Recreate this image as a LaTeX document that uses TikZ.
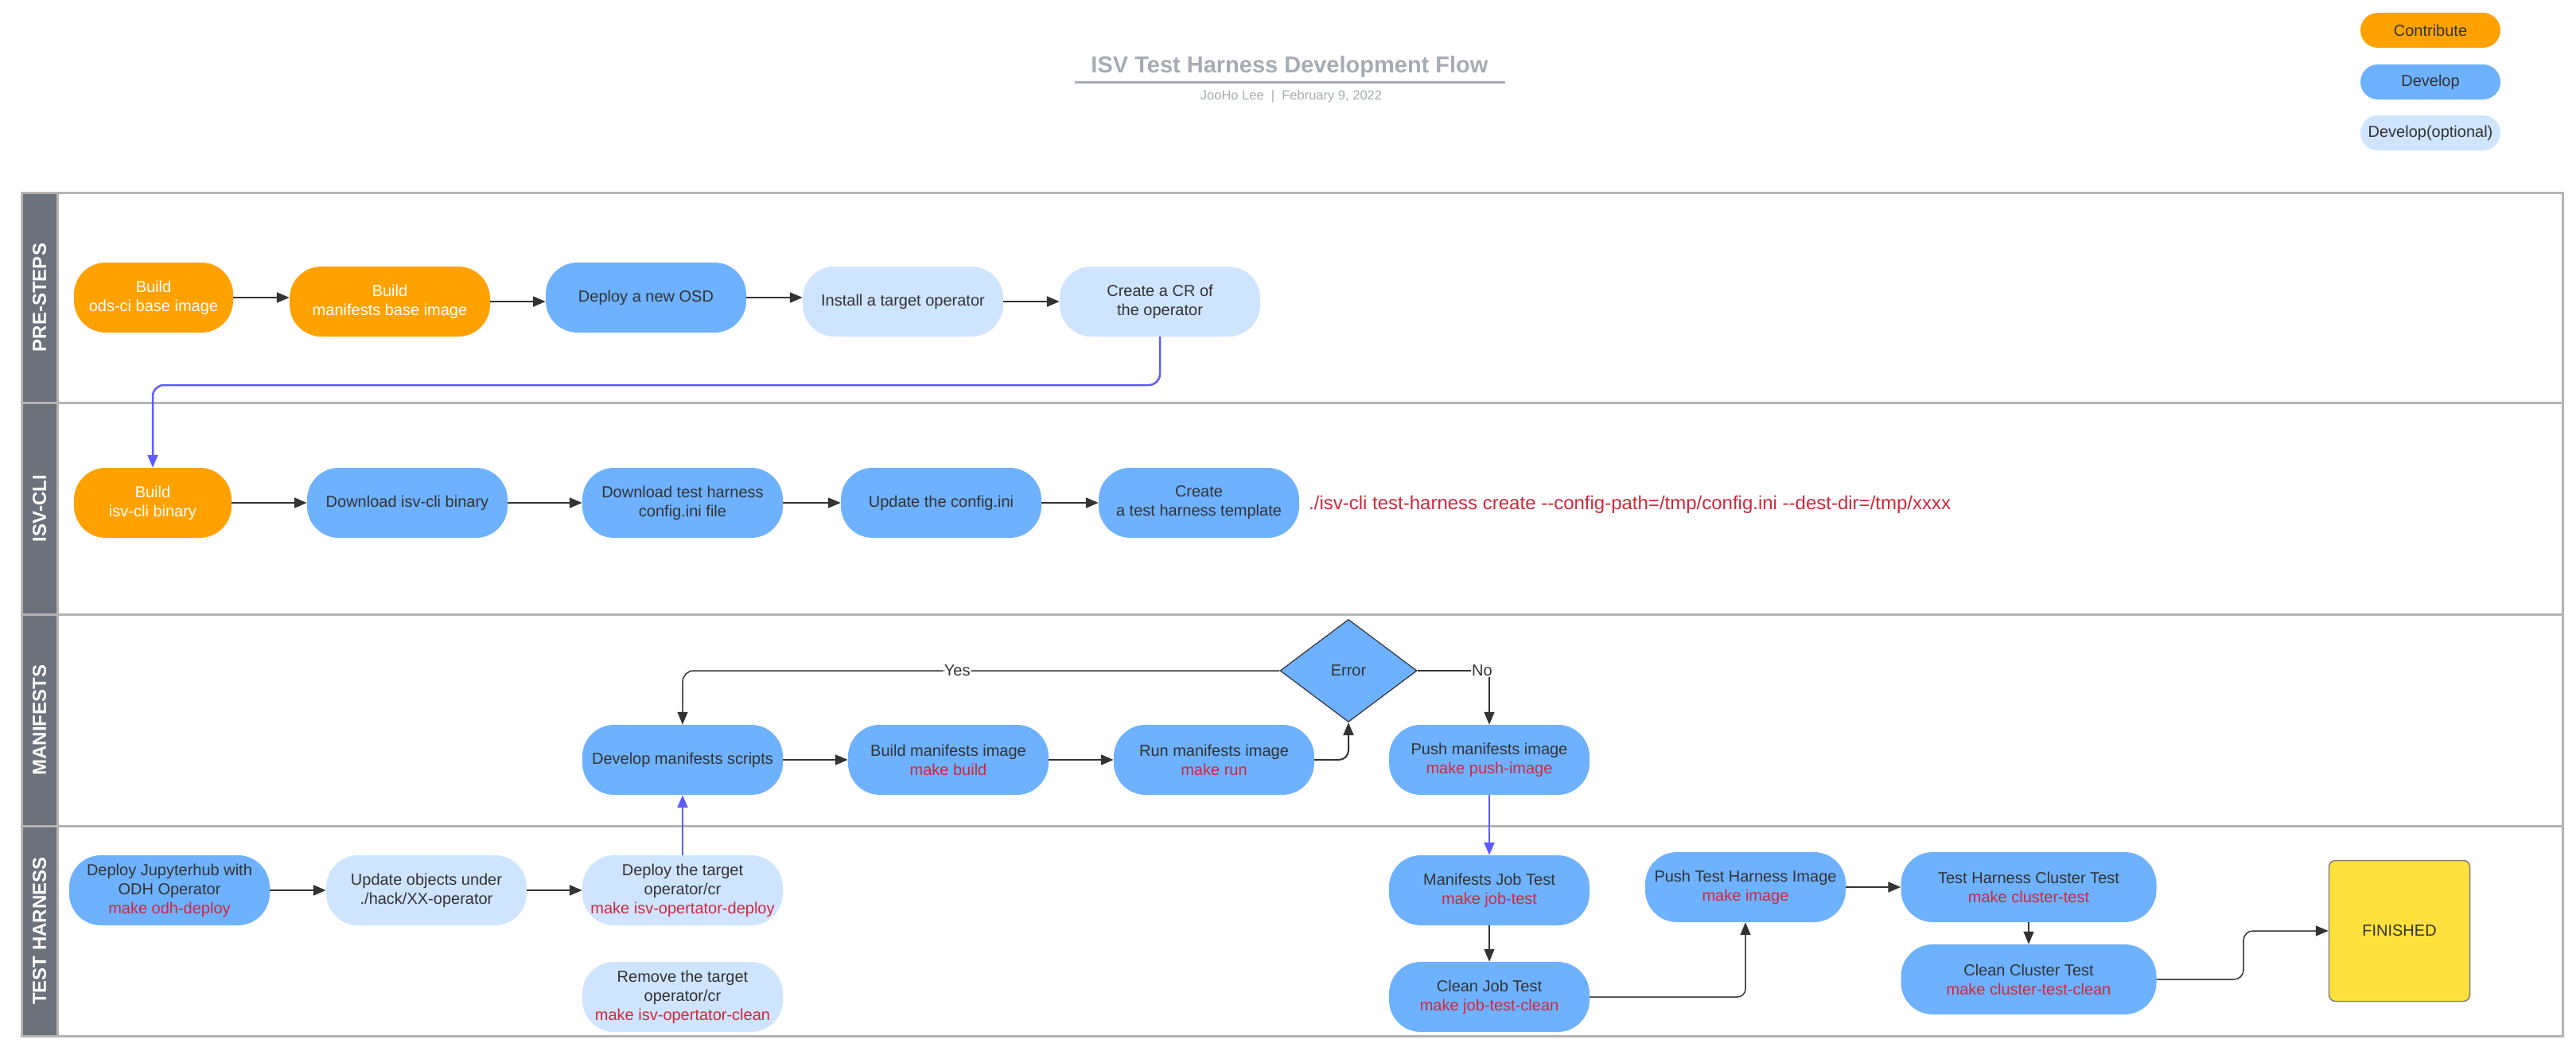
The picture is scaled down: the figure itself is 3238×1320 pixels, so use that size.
\documentclass[tikz,border=0pt]{standalone}
\usepackage{fontspec}
\setmainfont{Liberation Sans}
\usetikzlibrary{arrows.meta,shapes.geometric}
\definecolor{orng}{HTML}{FFA200}
\definecolor{devb}{HTML}{6DB1FF}
\definecolor{optb}{HTML}{CFE4FF}
\definecolor{txt}{HTML}{333333}
\definecolor{redt}{HTML}{D0283C}
\definecolor{purp}{HTML}{5E5CFF}
\definecolor{arrc}{HTML}{333333}
\definecolor{lanegray}{HTML}{6B727B}
\definecolor{laneline}{HTML}{B4B4B4}
\definecolor{titlec}{HTML}{A7ACB4}
\definecolor{yell}{HTML}{FFE13D}
\newcommand{\rd}[1]{\textcolor{redt}{#1}}
\tikzset{
  box/.style={rounded corners=40pt, minimum width=252pt, minimum height=88pt, align=center,
    font=\fontsize{20}{24}\selectfont, text=txt, inner sep=2pt},
  contrib/.style={box, fill=orng, text=white},
  devbox/.style={box, fill=devb},
  optbox/.style={box, fill=optb},
  legbox/.style={rounded corners=22pt, minimum width=176pt, minimum height=44pt,
    font=\fontsize{20}{24}\selectfont, text=txt, inner sep=0pt},
  arr/.style={draw=arrc, line width=2pt, -{Triangle[length=16pt,width=13pt]}},
  parr/.style={draw=purp, line width=2.5pt, -{Triangle[length=16pt,width=13pt]}},
  lanelbl/.style={rotate=90, text=white, font=\bfseries\fontsize{24}{28}\selectfont},
  lbl/.style={fill=white, text=txt, font=\fontsize{20}{24}\selectfont, inner sep=1pt},
}
\begin{document}
\begin{tikzpicture}[x=1pt,y=-1pt]
\useasboundingbox (0,0) rectangle (3238,1320);
\fill[white] (0,0) rectangle (3238,1320);

% title
\node[text=titlec, font=\bfseries\fontsize{29}{34}\selectfont] (title) at (1621,84) {ISV Test Harness Development Flow};
\draw[titlec, line width=3pt] (1351,103) -- (1892,103);
\node[text=titlec, font=\fontsize{16.5}{19}\selectfont] (sub) at (1623,121) {JooHo Lee~~|~~February 9, 2022};

% legend
\node[legbox, fill=orng] (lg1) at (3055,38) {Contribute};
\node[legbox, fill=devb] (lg2) at (3055,103) {Develop};
\node[legbox, fill=optb] (lg3) at (3055,167) {Develop(optional)};

% lanes
\fill[lanegray] (27,242) rectangle (72,1302);
\draw[laneline, line width=3pt] (27,242) rectangle (3221,1302);
\foreach \yy in {506,772,1038} \draw[laneline, line width=3pt] (27,\yy) -- (3221,\yy);
\draw[laneline, line width=3pt] (72,242) -- (72,1302);
\node[lanelbl] (ln1) at (49.5,374) {PRE-STEPS};
\node[lanelbl] (ln2) at (49.5,639) {ISV-CLI};
\node[lanelbl] (ln3) at (49.5,905) {MANIFESTS};
\node[lanelbl] (ln4) at (49.5,1170) {TEST HARNESS};

% lane 1
\node[contrib, minimum width=200pt] (odsci) at (193,374) {Build\\ods-ci base image};
\node[contrib] (mfb) at (490,379) {Build\\manifests base image};
\node[devbox] (osd) at (812,374) {Deploy a new OSD};
\node[optbox] (inst) at (1135,379) {Install a target operator};
\node[optbox] (cr) at (1458,379) {Create a CR of\\the operator};
\draw[arr] (odsci.east) -- (odsci.east -| mfb.west);
\draw[arr] (mfb.east) -- (mfb.east -| osd.west);
\draw[arr] (osd.east) -- (osd.east -| inst.west);
\draw[arr] (inst.east) -- (cr.west);

% lane 2
\node[contrib, minimum width=198pt] (isvb) at (192,632) {Build\\isv-cli binary};
\node[devbox] (dlb) at (512,632) {Download isv-cli binary};
\node[devbox] (dlt) at (858,632) {Download test harness\\config.ini file};
\node[devbox] (upd) at (1183,632) {Update the config.ini};
\node[devbox] (ctt) at (1507,632) {Create\\a test harness template};
\node[anchor=west, text=redt, font=\fontsize{24}{28}\selectfont, inner sep=0pt] (cmd) at (1645,634) {./isv-cli test-harness create -{}-config-path=/tmp/config.ini -{}-dest-dir=/tmp/xxxx};
\draw[arr] (isvb.east) -- (dlb.west);
\draw[arr] (dlb.east) -- (dlt.west);
\draw[arr] (dlt.east) -- (upd.west);
\draw[arr] (upd.east) -- (ctt.west);
\draw[parr, rounded corners=14pt] (cr.south) -- (cr.south |- 0,484) -| (isvb.north);

% lane 3
\node[diamond, fill=devb, draw=arrc, line width=1.2pt, minimum width=172pt, minimum height=129pt,
  inner sep=0pt, text=txt, font=\fontsize{20}{24}\selectfont] (err) at (1695,843) {Error};
\node[devbox] (dms) at (858,955) {Develop manifests scripts};
\node[devbox] (bmi) at (1192,955) {Build manifests image\\\rd{make build}};
\node[devbox] (rmi) at (1526,955) {Run manifests image\\\rd{make run}};
\node[devbox] (pmi) at (1872,955) {Push manifests image\\\rd{make push-image}};
\draw[arr] (dms.east) -- (bmi.west);
\draw[arr] (bmi.east) -- (rmi.west);
\draw[arr, rounded corners=12pt] (rmi.east) -| (err.south);
\draw[arr, line width=1.5pt, rounded corners=14pt] (err.west) -| (dms.north) node[lbl, pos=0.27] (yes) {Yes};
\draw[arr, line width=1.5pt] (err.east) -| (pmi.north) node[lbl, pos=0.45] (no) {No};

% lane 4
\node[devbox] (jup) at (213,1119) {Deploy Jupyterhub with\\ODH Operator\\\rd{make odh-deploy}};
\node[optbox] (uob) at (536,1119) {Update objects under\\./hack/XX-operator};
\node[optbox] (dto) at (858,1119) {Deploy the target\\operator/cr\\\rd{make isv-opertator-deploy}};
\node[optbox] (rto) at (858,1253) {Remove the target\\operator/cr\\\rd{make isv-opertator-clean}};
\node[devbox] (mjt) at (1872,1119) {Manifests Job Test\\\rd{make job-test}};
\node[devbox] (cjt) at (1872,1253) {Clean Job Test\\\rd{make job-test-clean}};
\node[devbox] (pth) at (2194,1115) {Push Test Harness Image\\\rd{make image}};
\node[devbox, minimum width=321pt] (thc) at (2550,1115) {Test Harness Cluster Test\\\rd{make cluster-test}};
\node[devbox, minimum width=321pt] (ccl) at (2550,1231) {Clean Cluster Test\\\rd{make cluster-test-clean}};
\node[draw=gray, line width=1.5pt, fill=yell, rounded corners=8pt, minimum width=177pt, minimum height=177pt,
  text=txt, font=\fontsize{20}{24}\selectfont] (fin) at (3016,1170) {FINISHED};

\draw[arr] (jup.east) -- (uob.west);
\draw[arr] (uob.east) -- (dto.west);
\draw[parr] (dto.north) -- (dms.south);
\draw[parr] (pmi.south) -- (mjt.north);
\draw[arr, line width=1.5pt] (mjt.south) -- (cjt.north);
\draw[arr, line width=1.5pt, rounded corners=10pt] (cjt.east) -| (pth.south);
\draw[arr] (pth.east) -- (thc.west);
\draw[arr, line width=1.5pt] (thc.south) -- (ccl.north);
\draw[arr, line width=1.5pt, rounded corners=12pt] (ccl.east) -- (2820,1231) |- (fin.west);
\end{tikzpicture}
\end{document}
